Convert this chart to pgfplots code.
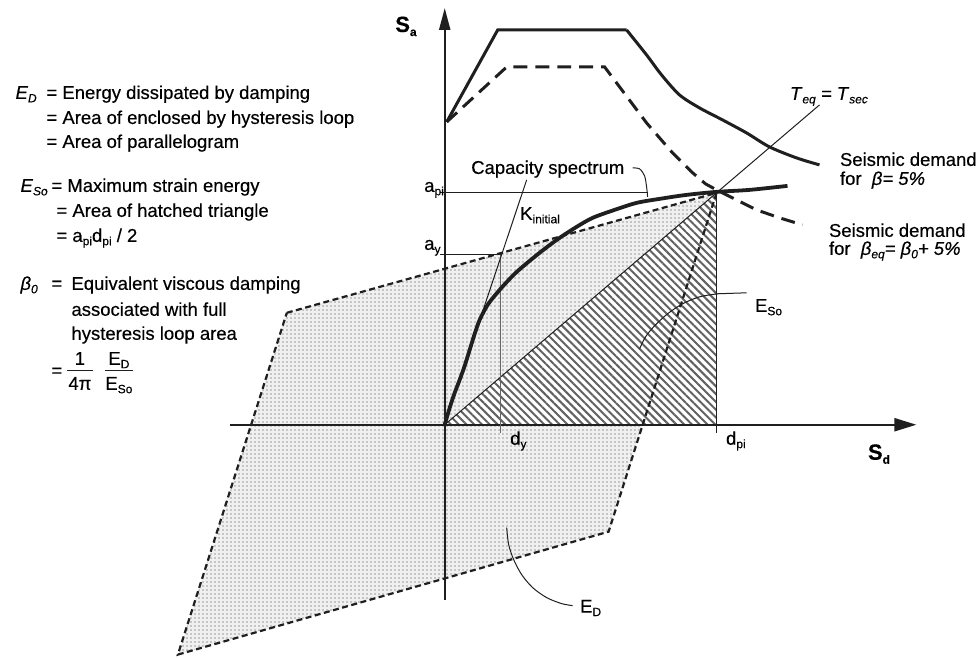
\documentclass[border=0pt]{standalone}
\usepackage{pgfplots}
\pgfplotsset{compat=1.18}
\usetikzlibrary{patterns.meta,arrows.meta}
\usepackage{fontspec}
\setmainfont{Liberation Sans}[FakeBold=0.35]
\newcommand{\sub}[1]{\raisebox{-0.35ex}{\fontsize{12}{12}\selectfont #1}}
\definecolor{ink}{gray}{0.12}
\tikzset{tx/.style={font=\fontsize{18.5}{22}\selectfont}}
\begin{document}
\begin{tikzpicture}
\begin{axis}[x=1pt,y=1pt,xmin=0,xmax=980,ymin=0,ymax=658,y dir=reverse,
  hide axis,clip=false,
  every node/.style={inner sep=0pt,text=ink}]
% frame (invisible) for bounding box
\addplot[draw=none] coordinates {(0,0) (980,658)};
% parallelogram (dotted fill)
\addplot[draw=none, fill=gray!12, postaction={pattern={Dots[distance=4pt,radius=0.8pt]}, pattern color=gray!80}]
  coordinates {(287,313) (717,193) (609,532) (178,655)} -- cycle;
% hatched triangle
\addplot[draw=none, fill=white] coordinates {(445,425) (717,193) (717,425)} -- cycle;
\addplot[draw=none, pattern={Lines[angle=-45,distance=5.5pt,line width=2pt]}, pattern color=black!62]
  coordinates {(445,425) (717,193) (717,425)} -- cycle;
% parallelogram outline
\addplot[ink, line width=2.2pt, dash pattern=on 6pt off 3.5pt]
  coordinates {(287,313) (717,193) (609,532) (178,655)} -- cycle;
% axes
\addplot[ink, line width=2.2pt, -{Triangle[length=22pt,width=13pt]}] coordinates {(230,425) (917,425)};
\addplot[ink, line width=2.2pt, -{Triangle[length=22pt,width=11pt]}] coordinates {(445,600) (445,8)};
% d_pi vertical and T_eq line
\addplot[ink, line width=1.3pt] coordinates {(717,193) (717,433)};
\addplot[ink, line width=1pt] coordinates {(445,425) (820,105)};
% a_pi, a_y, d_y lines
\addplot[ink, line width=1.2pt] coordinates {(440,193) (648,193)};
\addplot[ink, line width=1pt] coordinates {(440,255) (501,255)};
\addplot[black!60, line width=1pt] coordinates {(501,255) (501,433)};
% K initial
\addplot[ink, line width=1pt] coordinates {(445,425) (527,180)};
% capacity spectrum
\addplot[ink, line width=3.8pt, smooth] coordinates {(445,425) (450,408) (455,393) (460,380) (465,366) (470,350) (475,334) (480,320) (488,305) (500,290) (515,274) (530,261) (545,249) (560,238) (577,227) (593,218) (615,210) (637,203) (660,199) (687,195) (717,192) (750,190) (788,186)};
% seismic demand beta=5%
\addplot[ink, line width=3pt] coordinates {(447,122) (498,30) (627,30)};
\addplot[ink, line width=3pt, smooth] coordinates {(627,30) (647,55) (662,75) (680,95) (700,108) (723,120) (747,133) (770,147) (797,158) (820,165)};
% seismic demand beta_eq
\addplot[ink, line width=3pt, dash pattern=on 14pt off 8pt] coordinates {(447,122) (507,67) (605,67) (620,87) (647,123) (673,153) (692,172) (706,184) (717,190) (737,200) (757,210) (780,218) (803,225)};
% leaders
\addplot[ink, line width=1pt, smooth] coordinates {(633,168) (640,169) (645,176) (647,187) (648,197)};
\addplot[ink, line width=1pt] coordinates {(747,293) (717,294)};
\addplot[ink, line width=1pt, smooth] coordinates {(718,294) (700,297) (683,304) (668,314) (655,326) (646,337) (640,349)};
\addplot[ink, line width=1pt, smooth] coordinates {(507,528) (509,545) (514,560) (522,575) (533,588) (547,598) (562,604) (573,606)};
% fraction bars
\addplot[ink, line width=1pt] coordinates {(67,371) (93,371)};
\addplot[ink, line width=1pt] coordinates {(105,371) (133,371)};
% ---- text ----
\node[tx,anchor=base west] at (axis cs:12,99) {\textit{E}\sub{\textit{D}}};
\node[tx,anchor=base west] at (axis cs:43,99) {= Energy dissipated by damping};
\node[tx,anchor=base west] at (axis cs:43,124) {= Area of enclosed by hysteresis loop};
\node[tx,anchor=base west] at (axis cs:43,148) {= Area of parallelogram};
\node[tx,anchor=base west] at (axis cs:17,192) {\textit{E}\sub{\textit{So}}};
\node[tx,anchor=base west] at (axis cs:48,192) {= Maximum strain energy};
\node[tx,anchor=base west] at (axis cs:53,217) {= Area of hatched triangle};
\node[tx,anchor=base west] at (axis cs:53,242) {= a\sub{pi}d\sub{pi} / 2};
\node[tx,anchor=base west] at (axis cs:17,290) {\textit{β}\sub{\textit{0}}};
\node[tx,anchor=base west] at (axis cs:48,290) {=};
\node[tx,anchor=base west] at (axis cs:68,290) {Equivalent viscous damping};
\node[tx,anchor=base west] at (axis cs:68,316) {associated with full};
\node[tx,anchor=base west] at (axis cs:68,340) {hysteresis loop area};
\node[tx,anchor=base west] at (axis cs:48,377) {=};
\node[tx,anchor=base] at (axis cs:80,365) {1};
\node[tx,anchor=base] at (axis cs:80,390) {4π};
\node[tx,anchor=base] at (axis cs:119,365) {E\sub{D}};
\node[tx,anchor=base] at (axis cs:119,390) {E\sub{So}};
% chart labels
\node[anchor=base west,font=\fontsize{22}{24}\selectfont\bfseries] at (axis cs:392,32) {S\sub{a}};
\node[anchor=base west,font=\fontsize{22}{24}\selectfont\bfseries] at (axis cs:865,460) {S\sub{d}};
\node[tx,anchor=base west] at (axis cs:421,192) {a\sub{pi}};
\node[tx,anchor=base west] at (axis cs:421,250) {a\sub{y}};
\node[tx,anchor=base west] at (axis cs:507,445) {d\sub{y}};
\node[tx,anchor=base west] at (axis cs:723,445) {d\sub{pi}};
\node[tx,anchor=base west] at (axis cs:468,174) {Capacity spectrum};
\node[tx,anchor=base west] at (axis cs:517,220) {K\sub{initial}};
\node[tx,anchor=base west] at (axis cs:752,312) {E\sub{So}};
\node[tx,anchor=base west] at (axis cs:577,613) {E\sub{D}};
\node[tx,anchor=base west] at (axis cs:787,100) {\textit{T}\sub{\textit{eq}} \textit{=} \textit{T}\sub{\textit{sec}}};
\node[tx,anchor=base west] at (axis cs:837,166) {Seismic demand};
\node[tx,anchor=base west] at (axis cs:837,185) {for\ \ \textit{β= 5\%}};
\node[tx,anchor=base west] at (axis cs:826,237) {Seismic demand};
\node[tx,anchor=base west] at (axis cs:826,255) {for\ \ \textit{β\sub{eq}= β\sub{0}+ 5\%}};
\end{axis}
\end{tikzpicture}
\end{document}
